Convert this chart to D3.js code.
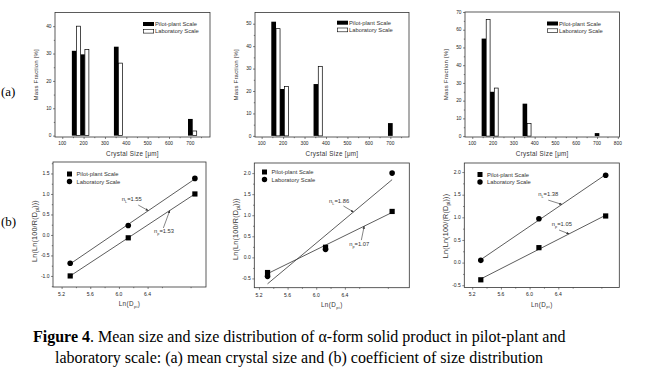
<!DOCTYPE html>
<html>
<head>
<meta charset="utf-8">
<script src="https://cdn.jsdelivr.net/npm/d3@7"></script>
<style>
body { margin: 0; background: #fff; }
svg text { font-family: "Liberation Sans", Arial, sans-serif; fill: #333; }
svg text.serif { font-family: "Liberation Serif", "Times New Roman", serif; fill: #000; }
</style>
</head>
<body>
<svg id="fig" width="646" height="374"></svg>
<script>
// ---- (a) mass fraction vs crystal size ----
var sizes = [156, 195, 353, 700];          // centre of the pilot-plant bar
var sizeTicks = [100, 200, 300, 400, 500, 600, 700, 800];
var pilotA1 = [31, 29.7, 32.5, 6.1],  labA1 = [40, 31.5, 26.5, 1.7];
var pilotA2 = [50.9, 20.9, 23.1, 5.7], labA2 = [47.8, 22, 31, 0];
var pilotA3 = [55, 25, 18.3, 1.7],    labA3 = [65.7, 27.1, 7.1, 0];

// ---- (b) Rosin-Rammler plots ----
var lnD = [5.32, 6.13, 7.06];
var lnTicks = [5.2, 5.6, 6.0, 6.4];
var pilotB1 = [-1.0, -0.07, 1.0],  labB1 = [-0.69, 0.23, 1.38];
var pilotB2 = [-0.36, 0.24, 1.09], labB2 = [-0.45, 0.19, 2.0];
var pilotB3 = [-0.38, 0.33, 1.03], labB3 = [0.05, 0.97, 1.93];
var nL = ["1.55", "1.86", "1.38"];
var nP = ["1.53", "1.07", "1.05"];

var svg = d3.select("#fig");
var frameColor = "#333";
var barW = 22; // bar width in size units

svg.append("defs").append("marker")
    .attr("id", "arrow")
    .attr("viewBox", "0 0 10 10")
    .attr("refX", 9).attr("refY", 5)
    .attr("markerWidth", 5).attr("markerHeight", 5)
    .attr("orient", "auto")
  .append("path")
    .attr("d", "M0,1 L10,5 L0,9 Z")
    .attr("fill", "#333");

function frame(g, box) {
    g.append("rect")
        .attr("x", box.l).attr("y", box.t)
        .attr("width", box.r - box.l).attr("height", box.b - box.t)
        .attr("fill", "none")
        .attr("stroke", frameColor)
        .attr("stroke-width", 0.8);
}

// ticks from d3 axes, labels written by hand so every one shows
function axes(g, box, x, y, xt, xminor, yt, yminor, fmt, fs) {
    g.append("g").attr("transform", "translate(0," + box.b + ")")
        .call(d3.axisBottom(x).tickValues(xt).tickSize(2).tickFormat(""));
    g.append("g").attr("transform", "translate(0," + box.b + ")")
        .call(d3.axisBottom(x).tickValues(xminor).tickSize(1.2).tickFormat(""));
    g.append("g").attr("transform", "translate(" + box.l + ",0)")
        .call(d3.axisLeft(y).tickValues(yt).tickSize(2).tickFormat(""));
    g.append("g").attr("transform", "translate(" + box.l + ",0)")
        .call(d3.axisLeft(y).tickValues(yminor).tickSize(1.2).tickFormat(""));
    g.selectAll(".domain").remove();
    g.selectAll(".tick line").attr("stroke", frameColor).attr("stroke-width", 0.6);

    g.append("g").selectAll("text").data(xt).enter().append("text")
        .attr("x", function(d) { return x(d); })
        .attr("y", box.b + fs.xoff)
        .attr("text-anchor", "middle")
        .style("font-size", fs.x + "px")
        .style("fill", "#222")
        .text(fmt.x);
    g.append("g").selectAll("text").data(yt).enter().append("text")
        .attr("x", box.l - 3.5)
        .attr("y", function(d) { return y(d) + fs.y * 0.36; })
        .attr("text-anchor", "end")
        .style("font-size", fs.y + "px")
        .style("fill", "#222")
        .text(fmt.y);
}

function barPanel(cfg) {
    var g = svg.append("g");
    var box = cfg.box;
    var x = d3.scaleLinear().domain(cfg.xDom).range([box.l, box.r]);
    var y = d3.scaleLinear().domain(cfg.yDom).range([box.b, box.t]);

    var xt = sizeTicks.filter(function(d) { return d >= cfg.xDom[0] && d <= cfg.xDom[1]; });
    var xm = d3.range(50, 851, 50).filter(function(d) { return d > cfg.xDom[0] && d < cfg.xDom[1] && xt.indexOf(d) < 0; });
    var yt = d3.range(0, cfg.yDom[1] + 0.01, 10);
    var ym = d3.range(5, cfg.yDom[1], 10);
    axes(g, box, x, y, xt, xm, yt, ym, {x: d3.format("d"), y: d3.format("d")}, {x: 4.8, y: 4.8, xoff: 7.6});

    var rows = sizes.map(function(s, i) { return {s: s, p: cfg.pilot[i], l: cfg.lab[i]}; });
    g.selectAll(".pbar").data(rows).enter().append("rect")
        .attr("x", function(d) { return x(d.s - barW / 2); })
        .attr("width", function(d) { return x(d.s + barW / 2) - x(d.s - barW / 2); })
        .attr("y", function(d) { return y(d.p); })
        .attr("height", function(d) { return y(0) - y(d.p); })
        .attr("fill", "#000");
    g.selectAll(".lbar").data(rows.filter(function(d) { return d.l > 0; })).enter().append("rect")
        .attr("x", function(d) { return x(d.s + barW / 2); })
        .attr("width", function(d) { return x(d.s + barW * 1.5) - x(d.s + barW / 2) - 0.7; })
        .attr("y", function(d) { return y(d.l); })
        .attr("height", function(d) { return y(0) - y(d.l); })
        .attr("fill", "#fff")
        .attr("stroke", "#000")
        .attr("stroke-width", 0.7);

    frame(g, box);

    // legend
    var lg = g.append("g").attr("transform", "translate(" + cfg.legend[0] + "," + cfg.legend[1] + ")");
    lg.append("rect").attr("x", 0).attr("y", 0).attr("width", 11).attr("height", 4).attr("fill", "#000");
    lg.append("rect").attr("x", 0.3).attr("y", 7.3).attr("width", 10.4).attr("height", 3.8)
        .attr("fill", "#fff").attr("stroke", "#000").attr("stroke-width", 0.6);
    lg.append("text").attr("x", 12).attr("y", 4).style("font-size", "5.8px").text("Pilot-plant Scale");
    lg.append("text").attr("x", 12).attr("y", 11.3).style("font-size", "5.8px").text("Laboratory Scale");

    g.append("text")
        .attr("transform", "translate(" + (box.l - 17) + "," + ((box.t + box.b) / 2) + ") rotate(-90)")
        .attr("text-anchor", "middle")
        .style("font-size", "6px")
        .style("letter-spacing", "0.2px")
        .text("Mass Fraction [%]");
    g.append("text")
        .attr("x", (box.l + box.r) / 2).attr("y", box.b + 19)
        .attr("text-anchor", "middle")
        .style("font-size", "6.3px")
        .style("letter-spacing", "0.3px")
        .text("Crystal Size [\u03bcm]");
}

function fit(xs, ys) {
    var mx = d3.mean(xs), my = d3.mean(ys);
    var sxy = d3.sum(xs, function(v, i) { return (v - mx) * (ys[i] - my); });
    var sxx = d3.sum(xs, function(v) { return (v - mx) * (v - mx); });
    var k = sxy / sxx;
    return function(v) { return my + k * (v - mx); };
}

function subText(sel, parts, fs) {
    // parts: [main, sub, rest]
    sel.append("tspan").text(parts[0]);
    sel.append("tspan").attr("dy", fs * 0.3).style("font-size", (fs * 0.65) + "px").text(parts[1]);
    sel.append("tspan").attr("dy", -fs * 0.3).text(parts[2]);
}

function fitPanel(cfg) {
    var g = svg.append("g");
    var box = cfg.box;
    var x = d3.scaleLinear().domain(cfg.xDom).range([box.l, box.r]);
    var y = d3.scaleLinear().domain(cfg.yDom).range([box.b, box.t]);
    var f1 = function(d) { return d3.format(".1f")(d).replace("\u2212", "-"); };

    var yt = d3.range(-1, 2.01, 0.5).filter(function(d) { return d >= cfg.yDom[0] - 0.03 && d <= cfg.yDom[1]; });
    var ym = d3.range(-1.25, 2.3, 0.5).filter(function(d) { return d > cfg.yDom[0] && d < cfg.yDom[1]; });
    var xm = [5.4, 5.8, 6.2, 6.6, 7.0].filter(function(d) { return d < cfg.xDom[1]; });
    axes(g, box, x, y, lnTicks, xm, yt, ym, {x: f1, y: f1}, {x: 5, y: 5, xoff: 8.8});

    var fp = fit(lnD, cfg.pilot), fl = fit(lnD, cfg.lab);
    var x0 = lnD[0], x1 = lnD[lnD.length - 1];
    [fp, fl].forEach(function(fn) {
        g.append("line")
            .attr("x1", x(x0)).attr("y1", y(fn(x0)))
            .attr("x2", x(x1)).attr("y2", y(fn(x1)))
            .attr("stroke", "#333").attr("stroke-width", 0.8);
    });

    g.selectAll(".sq").data(lnD).enter().append("rect")
        .attr("x", function(d) { return x(d) - 2.6; })
        .attr("y", function(d, i) { return y(cfg.pilot[i]) - 2.6; })
        .attr("width", 5.2).attr("height", 5.2)
        .attr("fill", "#000");
    g.selectAll(".ci").data(lnD).enter().append("circle")
        .attr("cx", function(d) { return x(d); })
        .attr("cy", function(d, i) { return y(cfg.lab[i]); })
        .attr("r", 2.8)
        .attr("fill", "#000");

    frame(g, box);

    // n annotations with arrows
    var ann = [
        {fn: fl, sub: "L", val: cfg.nL, t: cfg.annL},
        {fn: fp, sub: "p", val: cfg.nP, t: cfg.annP}
    ];
    ann.forEach(function(a) {
        var tx = g.append("text")
            .attr("x", x(a.t.text[0])).attr("y", y(a.t.text[1]))
            .style("font-size", "5.8px");
        subText(tx, ["n", a.sub, "=" + a.val], 5.8);
        g.append("line")
            .attr("x1", x(a.t.tail[0])).attr("y1", y(a.t.tail[1]))
            .attr("x2", x(a.t.head)).attr("y2", y(a.fn(a.t.head)))
            .attr("stroke", "#333").attr("stroke-width", 0.6)
            .attr("marker-end", "url(#arrow)");
    });

    // legend
    var lg = g.append("g").attr("transform", "translate(" + cfg.legend[0] + "," + cfg.legend[1] + ")");
    lg.append("rect").attr("x", -2.5).attr("y", -2.5).attr("width", 5).attr("height", 5).attr("fill", "#000");
    lg.append("circle").attr("cx", 0).attr("cy", 7.5).attr("r", 2.7).attr("fill", "#000");
    lg.append("text").attr("x", 7).attr("y", 2).style("font-size", "5.8px").text("Pilot-plant Scale");
    lg.append("text").attr("x", 7).attr("y", 9.5).style("font-size", "5.8px").text("Laboratory Scale");

    var yl = g.append("text")
        .attr("transform", "translate(" + (box.l - 16) + "," + cfg.yLabelY + ") rotate(-90)")
        .attr("text-anchor", "middle")
        .style("font-size", "7.2px")
        .style("letter-spacing", "0.2px");
    subText(yl, [cfg.yLabel, "pi", ")))"], 7.2);
    var xl = g.append("text")
        .attr("x", (box.l + box.r) / 2).attr("y", box.b + 19)
        .attr("text-anchor", "middle")
        .style("font-size", "6.3px")
        .style("letter-spacing", "0.4px");
    subText(xl, ["Ln(D", "pi", ")"], 6.3);
}

barPanel({box: {l: 55, t: 12.5, r: 210, b: 137}, xDom: [66, 792], yDom: [-0.5, 45],
    pilot: pilotA1, lab: labA1, legend: [143, 22]});
barPanel({box: {l: 255, t: 12.5, r: 409, b: 137}, xDom: [69, 787], yDom: [-0.5, 55],
    pilot: pilotA2, lab: labA2, legend: [337, 20.7]});
barPanel({box: {l: 465, t: 12, r: 619.5, b: 137}, xDom: [65, 808], yDom: [-0.5, 70],
    pilot: pilotA3, lab: labA3, legend: [547, 21.5]});

fitPanel({box: {l: 53, t: 162, r: 206, b: 287}, xDom: [5.08, 7.215], yDom: [-1.27, 1.78],
    pilot: pilotB1, lab: labB1, nL: nL[0], nP: nP[0], legend: [69.5, 174],
    annL: {text: [6.04, 0.83], tail: [6.27, 0.73], head: 6.41},
    annP: {text: [6.49, 0.04], tail: [6.62, 0.17], head: 6.71},
    yLabel: "Ln(Ln(100/R(D", yLabelY: 231});
fitPanel({box: {l: 254.3, t: 163, r: 409.3, b: 287.7}, xDom: [5.135, 7.3], yDom: [-0.72, 2.24],
    pilot: pilotB2, lab: labB2, nL: nL[1], nP: nP[1], legend: [264.5, 172],
    annL: {text: [6.18, 1.29], tail: [6.38, 1.22], head: 6.52},
    annP: {text: [6.46, 0.26], tail: [6.63, 0.41], head: 6.67},
    yLabel: "Ln(Ln(100/R(D", yLabelY: 229});
fitPanel({box: {l: 464.3, t: 163, r: 619.3, b: 287.5}, xDom: [5.09, 7.25], yDom: [-0.55, 2.2],
    pilot: pilotB3, lab: labB3, nL: nL[2], nP: nP[2], legend: [480, 174.5],
    annL: {text: [6.12, 1.47], tail: [6.26, 1.38], head: 6.45},
    annP: {text: [6.31, 0.80], tail: [6.41, 0.72], head: 6.55},
    yLabel: "Ln(Ln(100/(R(D", yLabelY: 226});

// row labels
svg.append("text").attr("class", "serif").attr("x", 1).attr("y", 96).style("font-size", "13px").text("(a)");
svg.append("text").attr("class", "serif").attr("x", 1).attr("y", 226).style("font-size", "13px").text("(b)");

// caption
var cap = svg.append("text").attr("class", "serif").attr("x", 33).attr("y", 342).style("font-size", "16px");
cap.append("tspan").style("font-weight", "bold").text("Figure 4");
cap.append("tspan").text(". Mean size and size distribution of \u03b1-form solid product in pilot-plant and");
svg.append("text").attr("class", "serif").attr("x", 55).attr("y", 363).style("font-size", "16px")
    .text("laboratory scale: (a) mean crystal size and (b) coefficient of size distribution");
</script>
</body>
</html>
